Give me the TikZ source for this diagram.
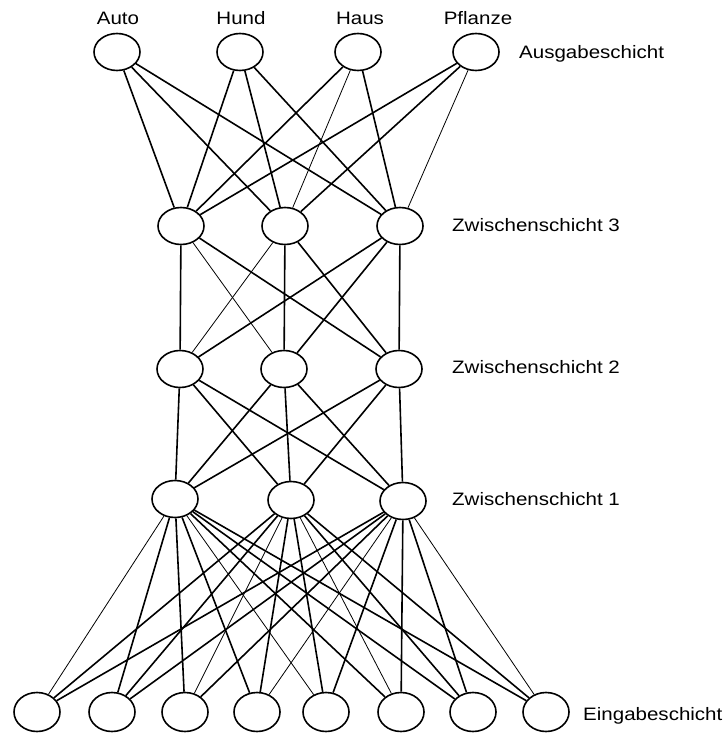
\documentclass[tikz,border=0pt]{standalone}
\usepackage{fontspec}
\setmainfont{Liberation Sans}[FakeStretch=1.14]
\usetikzlibrary{shapes.geometric}
\begin{document}
\begin{tikzpicture}[x=1pt,y=-1pt,
  neuron/.style={draw,ellipse,line width=1.6pt,minimum width=46pt,minimum height=37pt,inner sep=0pt,fill=white},
  inneuron/.style={neuron,minimum height=39pt},
  thick link/.style={line width=1.6pt},
  thin link/.style={line width=0.8pt},
  lbl/.style={inner sep=0pt,font=\fontsize{18pt}{20pt}\selectfont}]
\useasboundingbox[fill=white] (0,0) rectangle (726,735);
% output layer
\node[neuron] (o1) at (117,52) {};
\node[neuron] (o2) at (240,52) {};
\node[neuron] (o3) at (358,52) {};
\node[neuron] (o4) at (476,52) {};
% hidden 3
\node[neuron] (c1) at (181,226) {};
\node[neuron] (c2) at (285,226) {};
\node[neuron] (c3) at (400,226) {};
% hidden 2
\node[neuron] (b1) at (180,369) {};
\node[neuron] (b2) at (284,369) {};
\node[neuron] (b3) at (399,369) {};
% hidden 1
\node[neuron] (a1) at (175,499) {};
\node[neuron] (a2) at (291,500) {};
\node[neuron] (a3) at (403,501) {};
% input
\foreach \i/\x in {1/37,2/112,3/185,4/257,5/326,6/401,7/473,8/546}
  \node[inneuron] (i\i) at (\x,712) {};
% edges output - hidden 3
\begin{scope}[on background layer/.try]
\end{scope}
\foreach \s/\t/\w in {o1/c1/thick,o1/c2/thick,o1/c3/thick,
  o2/c1/thick,o2/c2/thick,o2/c3/thick,
  o3/c1/thick,o3/c2/thin,o3/c3/thick,
  o4/c1/thick,o4/c2/thick,o4/c3/thin,
  c1/b1/thick,c1/b2/thin,c1/b3/thick,
  c2/b1/thin,c2/b2/thick,c2/b3/thick,
  c3/b1/thick,c3/b2/thick,c3/b3/thick,
  b1/a1/thick,b1/a2/thick,b1/a3/thick,
  b2/a1/thick,b2/a2/thick,b2/a3/thick,
  b3/a1/thick,b3/a2/thick,b3/a3/thick}
  \draw[\w\space link] (\s) -- (\t);
\foreach \s/\t/\w in {a1/i1/thin,a1/i2/thick,a1/i3/thick,a1/i4/thick,a1/i5/thin,a1/i6/thick,a1/i7/thick,a1/i8/thick,
  a2/i1/thick,a2/i2/thick,a2/i3/thin,a2/i4/thick,a2/i5/thick,a2/i6/thin,a2/i7/thick,a2/i8/thick,
  a3/i1/thick,a3/i2/thick,a3/i3/thick,a3/i4/thin,a3/i5/thick,a3/i6/thick,a3/i7/thick,a3/i8/thin}
  \draw[\w\space link] (\s) -- (\t);
% labels
\node[lbl,anchor=base] (lauto) at (118,25) {Auto};
\node[lbl,anchor=base] (lhund) at (241,25) {Hund};
\node[lbl,anchor=base] (lhaus) at (360,25) {Haus};
\node[lbl,anchor=base] (lpfl) at (478,25) {Pflanze};
\node[lbl,anchor=base west] (lout) at (519,58.5) {Ausgabeschicht};
\node[lbl,anchor=base west] (lz3) at (452,231) {Zwischenschicht 3};
\node[lbl,anchor=base west] (lz2) at (452,373) {Zwischenschicht 2};
\node[lbl,anchor=base west] (lz1) at (452,505) {Zwischenschicht 1};
\node[lbl,anchor=base west] (lin) at (583,720) {Eingabeschicht};
\end{tikzpicture}
\end{document}
